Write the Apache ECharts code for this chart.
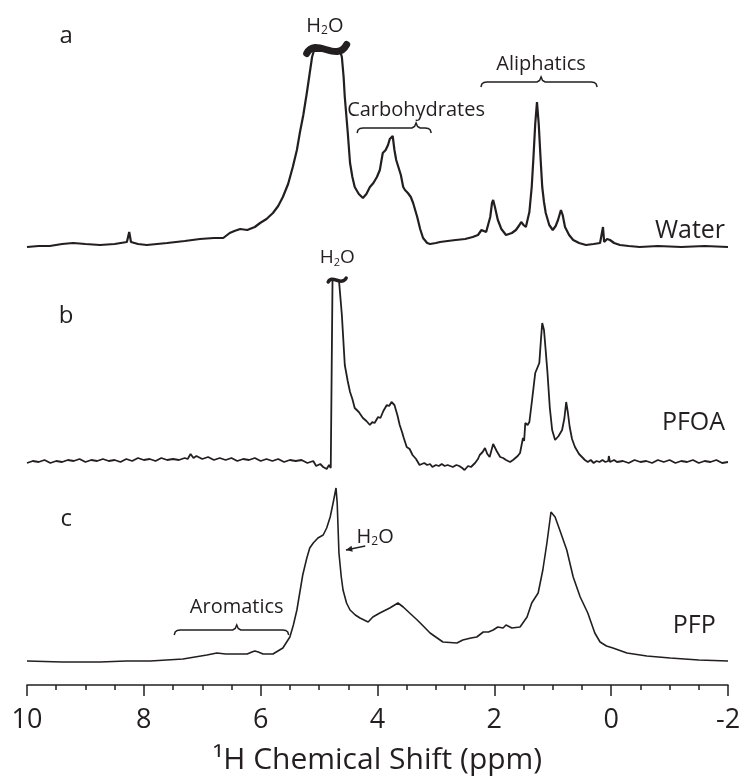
<!DOCTYPE html>
<html>
<head>
<meta charset="utf-8">
<script src="https://cdn.jsdelivr.net/npm/echarts@6/dist/echarts.min.js"></script>
<style>
html, body { margin: 0; padding: 0; background: #fff; }
#main { width: 746px; height: 776px; }
</style>
</head>
<body>
<div id="main"></div>
<script>
// chemical shift range of the axis (ppm), drawn high -> low
var xMin = -2;
var xMax = 10;
var xStep = 2;

// spectrum a (Water): [ppm, intensity]
var waterData = [
	[10.0, 0], [9.8, 1], [9.61, 1], [9.4, 3], [9.21, 4], [9.0, 3], [8.75, 2], [8.5, 3], [8.29, 5], [8.25, 15], [8.22, 5],
	[8.1, 3], [7.95, 2], [7.6, 4], [7.3, 6], [7.04, 8], [6.8, 9], [6.64, 9], [6.53, 14], [6.45, 16], [6.35, 18], [6.23, 17],
	[6.1, 20], [6.01, 24], [5.9, 28], [5.79, 34], [5.7, 41], [5.62, 50], [5.53, 63], [5.45, 80], [5.38, 97], [5.33, 114],
	[5.27, 132], [5.21, 154], [5.16, 174], [5.12, 190], [5.09, 196], [4.64, 196], [4.61, 190], [4.58, 170], [4.56, 150],
	[4.51, 115], [4.47, 84], [4.43, 70], [4.39, 60], [4.32, 53], [4.25, 49], [4.19, 53], [4.13, 60], [4.07, 64], [4.01, 70],
	[3.96, 77], [3.91, 94], [3.86, 97], [3.82, 102], [3.79, 108], [3.77, 107], [3.74, 111], [3.71, 97], [3.68, 87], [3.65, 85],
	[3.60, 72], [3.56, 60], [3.53, 57], [3.48, 54], [3.43, 50], [3.39, 44], [3.32, 30], [3.27, 18], [3.22, 9], [3.15, 4],
	[3.10, 3], [3.0, 4], [2.93, 5], [2.8, 6], [2.66, 7], [2.5, 8], [2.37, 10], [2.28, 12], [2.22, 17], [2.19, 19], [2.14, 15],
	[2.11, 17], [2.07, 30], [2.04, 44], [2.02, 47], [1.99, 40], [1.94, 27], [1.88, 18], [1.80, 12], [1.70, 14], [1.63, 17],
	[1.57, 22], [1.54, 25], [1.50, 22], [1.46, 20], [1.40, 35], [1.36, 60], [1.33, 90], [1.30, 123], [1.27, 145], [1.24, 123],
	[1.21, 90], [1.18, 60], [1.15, 45], [1.12, 34], [1.06, 22], [1.00, 17], [0.95, 21], [0.91, 27], [0.86, 37], [0.83, 32],
	[0.79, 20], [0.72, 12], [0.65, 7], [0.55, 4], [0.43, 2], [0.3, 3], [0.19, 4], [0.16, 5], [0.14, 20], [0.12, 5], [0.07, 8],
	[0.02, 7], [-0.05, 4], [-0.15, 2], [-0.3, 1], [-0.49, 0], [-0.8, 1], [-1.2, 0], [-1.6, 1], [-2.0, 0]
];

// spectrum b (PFOA)
var pfoaData = [
	[10.0, 0], [9.9, 2], [9.8, 1], [9.7, 3], [9.6, 0], [9.5, 2], [9.4, 1], [9.3, 3], [9.2, 2], [9.1, 4], [9.0, 1], [8.9, 3],
	[8.8, 2], [8.7, 4], [8.6, 2], [8.5, 3], [8.4, 1], [8.3, 4], [8.2, 2], [8.1, 5], [8.0, 3], [7.9, 4], [7.8, 2], [7.7, 5],
	[7.6, 3], [7.5, 4], [7.4, 3], [7.3, 5], [7.25, 4], [7.2, 9], [7.15, 5], [7.1, 7], [7.0, 4], [6.9, 6], [6.8, 3], [6.7, 5],
	[6.6, 3], [6.5, 5], [6.4, 2], [6.3, 4], [6.2, 3], [6.1, 5], [6.0, 2], [5.9, 4], [5.8, 2], [5.7, 4], [5.6, 1], [5.5, 3],
	[5.4, 2], [5.3, 3], [5.2, 0], [5.1, 2], [5.05, -3], [4.98, -1], [4.93, -4], [4.87, -6], [4.83, -2], [4.80, -5], [4.78, -3],
	[4.77, 183], [4.66, 183],
	[4.61, 148], [4.56, 98], [4.51, 82], [4.47, 71], [4.43, 64], [4.39, 55], [4.32, 51], [4.25, 45], [4.19, 42], [4.13, 38],
	[4.09, 41], [4.05, 40], [3.99, 46], [3.95, 45], [3.90, 52], [3.84, 58], [3.80, 57], [3.76, 61], [3.71, 58], [3.66, 48],
	[3.62, 38], [3.58, 31], [3.55, 25], [3.50, 16], [3.45, 14], [3.40, 8], [3.34, 4], [3.28, -2], [3.2, 0], [3.15, -2],
	[3.1, -1], [3.06, -4], [3.0, -2], [2.95, -3], [2.9, -1], [2.85, -3], [2.8, -2], [2.71, -4], [2.65, -2], [2.6, -3],
	[2.55, -5], [2.51, -7], [2.45, -3], [2.4, -4], [2.33, 0], [2.28, 4], [2.25, 8], [2.2, 11], [2.16, 15], [2.12, 9],
	[2.08, 6], [2.02, 19], [1.96, 12], [1.90, 6], [1.85, 5], [1.80, 3], [1.73, 1], [1.68, 3], [1.65, 4], [1.6, 7],
	[1.56, 10], [1.51, 25], [1.49, 22], [1.47, 40], [1.43, 38], [1.40, 41], [1.35, 65], [1.30, 90], [1.23, 100], [1.20, 125],
	[1.18, 140], [1.15, 133], [1.12, 112], [1.09, 90], [1.05, 55], [1.01, 33], [0.96, 23], [0.90, 27], [0.84, 33],
	[0.80, 45], [0.77, 61], [0.74, 50], [0.71, 36], [0.67, 24], [0.62, 16], [0.55, 9], [0.5, 6], [0.45, 3], [0.4, 1],
	[0.35, 3], [0.3, 0], [0.25, 2], [0.2, 1], [0.15, 3], [0.1, 1], [0.05, 2], [0.04, 7], [0.02, 1], [-0.05, 3], [-0.1, 1],
	[-0.2, 2], [-0.3, 0], [-0.4, 3], [-0.5, 1], [-0.6, 2], [-0.7, 0], [-0.8, 3], [-0.9, 1], [-1.0, 3], [-1.1, 0], [-1.2, 2],
	[-1.3, 1], [-1.4, 3], [-1.5, 0], [-1.6, 2], [-1.7, 1], [-1.8, 3], [-1.9, 0], [-2.0, 1]
];

// spectrum c (PFP)
var pfpData = [
	[10.0, 1], [9.4, 0], [8.75, 0], [8.3, 1], [7.89, 1], [7.33, 3], [6.92, 7], [6.75, 9], [6.6, 8], [6.47, 8], [6.23, 8],
	[6.15, 10], [6.10, 11], [6.04, 10], [5.96, 8], [5.79, 8], [5.62, 14], [5.50, 25], [5.44, 37], [5.38, 52], [5.28, 87],
	[5.21, 104], [5.16, 114], [5.10, 119], [5.02, 124], [4.93, 127], [4.87, 134], [4.81, 145], [4.76, 159], [4.73, 160],
	[4.71, 174], [4.69, 159], [4.66, 109], [4.62, 85], [4.59, 72], [4.53, 59], [4.47, 52], [4.38, 47], [4.30, 44],
	[4.16, 40], [4.08, 45], [3.96, 49], [3.79, 54], [3.65, 59], [3.56, 55], [3.45, 49], [3.32, 42], [3.20, 35], [3.10, 29],
	[2.88, 20], [2.64, 19], [2.54, 22], [2.40, 24], [2.30, 25], [2.19, 30], [2.10, 30], [2.02, 32], [1.94, 35], [1.85, 34],
	[1.80, 37], [1.70, 34], [1.56, 35], [1.44, 45], [1.36, 59], [1.25, 69], [1.17, 92], [1.10, 119], [1.03, 150],
	[0.96, 145], [0.88, 132], [0.76, 112], [0.65, 85], [0.53, 65], [0.40, 49], [0.28, 29], [0.19, 20], [0.08, 16],
	[-0.03, 14], [-0.27, 9], [-0.61, 6], [-1.01, 4], [-1.5, 2], [-2.0, 1]
];

var seriesNames = ['Water', 'PFOA', 'PFP'];
var panelLetters = ['a', 'b', 'c'];

var ink = '#231f20';
var font = '"Open Sans", "Noto Sans", sans-serif';

var chart = echarts.init(document.getElementById('main'));

function hiddenX(g) {
	return { type: 'value', gridIndex: g, min: xMin, max: xMax, interval: xStep, inverse: true, show: false };
}

var option = {
	animation: false,
	backgroundColor: '#fff',
	grid: [
		{ left: 27, right: 18, top: 47, height: 210 },
		{ left: 27, right: 18, top: 273, height: 200 },
		{ left: 27, right: 18, top: 482, height: 203 }
	],
	xAxis: [
		hiddenX(0),
		hiddenX(1),
		{
			type: 'value', gridIndex: 2, min: xMin, max: xMax, interval: xStep, inverse: true,
			axisLine: { show: true, onZero: false, lineStyle: { color: ink, width: 1.5 } },
			axisTick: { show: true, length: 11, lineStyle: { color: ink, width: 1.5 } },
			minorTick: { show: true, splitNumber: 4, length: 5, lineStyle: { color: ink, width: 1.5 } },
			axisLabel: { fontSize: 27, color: ink, fontFamily: font, margin: 22 },
			splitLine: { show: false },
			name: '\u00b9H Chemical Shift (ppm)',
			nameLocation: 'middle',
			nameGap: 60,
			nameTextStyle: { fontSize: 30, color: ink, fontFamily: font }
		}
	],
	yAxis: [
		{ type: 'value', gridIndex: 0, min: -10, max: 200, show: false },
		{ type: 'value', gridIndex: 1, min: -10, max: 190, show: false },
		{ type: 'value', gridIndex: 2, min: -23, max: 180, show: false }
	],
	series: [
		{ name: seriesNames[0], type: 'line', xAxisIndex: 0, yAxisIndex: 0, data: waterData, showSymbol: false,
			lineStyle: { color: ink, width: 2.2 } },
		{ name: seriesNames[1], type: 'line', xAxisIndex: 1, yAxisIndex: 1, data: pfoaData, showSymbol: false,
			lineStyle: { color: ink, width: 1.8 } },
		{ name: seriesNames[2], type: 'line', xAxisIndex: 2, yAxisIndex: 2, data: pfpData, showSymbol: false,
			lineStyle: { color: ink, width: 1.6 } }
	]
};
chart.setOption(option);

// annotations, placed in data coordinates of each panel
function pt(g, ppm, v) {
	return chart.convertToPixel({ gridIndex: g }, [ppm, v]);
}

function label(g, ppm, v, text, size, align) {
	var p = pt(g, ppm, v);
	return {
		type: 'text', x: p[0], y: p[1], z: 10,
		style: { text: text, fontSize: size, fontFamily: font, fill: ink,
			align: align || 'center', textAlign: align || 'center', verticalAlign: 'middle', textVerticalAlign: 'middle' }
	};
}

function water(g, ppm, v, size) {
	var p = pt(g, ppm, v);
	return {
		type: 'text', x: p[0], y: p[1], z: 10,
		style: {
			text: '{n|H}{s|2}{n|O}', fill: ink,
			align: 'center', textAlign: 'center', verticalAlign: 'middle', textVerticalAlign: 'middle',
			rich: {
				n: { fontSize: size, fontFamily: font, lineHeight: size + 2, fill: ink, color: ink },
				s: { fontSize: Math.round(size * 0.58), fontFamily: font, verticalAlign: 'bottom', lineHeight: Math.round(size * 0.45), fill: ink, color: ink }
			}
		}
	};
}

// curly brace lying flat, tip pointing up at "mid"
function brace(g, from, mid, to, v) {
	var a = pt(g, from, v)[0], m = pt(g, mid, v)[0], b = pt(g, to, v)[0];
	var y = pt(g, from, v)[1];
	var pts = [
		[a, y + 5], [a + 1, y + 2], [a + 3, y + 0.5], [a + 6, y],
		[m - 4, y], [m - 1.5, y - 1.5], [m, y - 5], [m + 1.5, y - 1.5], [m + 4, y],
		[b - 6, y], [b - 3, y + 0.5], [b - 1, y + 2], [b, y + 5]
	];
	return { type: 'polyline', z: 10, shape: { points: pts }, style: { fill: null, stroke: ink, lineWidth: 1.5 } };
}

// break mark "~" over a clipped peak
function tilde(g, ppm, v, w, h, lw) {
	var c = pt(g, ppm, v);
	return {
		type: 'bezierCurve', z: 12,
		shape: {
			x1: c[0] - w, y1: c[1] + h * 0.5,
			cpx1: c[0] - w * 0.55, cpy1: c[1] - h * 1.4,
			cpx2: c[0] + w * 0.5, cpy2: c[1] + h * 1.6,
			x2: c[0] + w, y2: c[1] - h * 0.5
		},
		style: { fill: null, stroke: ink, lineWidth: lw, lineCap: 'round' }
	};
}

var arrowFrom = pt(2, 4.21, 116);
var arrowTo = pt(2, 4.54, 112);
var ang = Math.atan2(arrowTo[1] - arrowFrom[1], arrowTo[0] - arrowFrom[0]);
function off(p, r, a) { return [p[0] + r * Math.cos(a), p[1] + r * Math.sin(a)]; }

var elements = [
	label(0, 9.33, 211, panelLetters[0], 24),
	label(1, 9.33, 147, panelLetters[1], 24),
	label(2, 9.33, 143, panelLetters[2], 24),
	label(0, -1.95, 16, seriesNames[0], 25, 'right'),
	label(1, -1.95, 40, seriesNames[1], 25, 'right'),
	label(2, -1.79, 36, seriesNames[2], 25, 'right'),
	water(0, 4.90, 221, 20),
	tilde(0, 4.87, 198, 20, 9, 7),
	label(0, 3.34, 137, 'Carbohydrates', 20),
	brace(0, 4.35, 3.34, 3.08, 119),
	label(0, 1.20, 183, 'Aliphatics', 20),
	brace(0, 2.23, 1.20, 0.24, 165),
	water(1, 4.69, 205, 19),
	tilde(1, 4.69, 183, 9, 4, 3.5),
	label(2, 6.41, 55, 'Aromatics', 20),
	brace(2, 7.48, 6.41, 5.52, 32),
	water(2, 4.04, 125, 20),
	{ type: 'line', z: 10, shape: { x1: arrowFrom[0], y1: arrowFrom[1], x2: arrowTo[0], y2: arrowTo[1] },
		style: { stroke: ink, lineWidth: 1.3 } },
	{ type: 'polygon', z: 10, shape: { points: [arrowTo, off(arrowTo, -7, ang - 0.45), off(arrowTo, -7, ang + 0.45)] },
		style: { fill: ink } }
];

chart.setOption({ graphic: { elements: elements } });
</script>
</body>
</html>
